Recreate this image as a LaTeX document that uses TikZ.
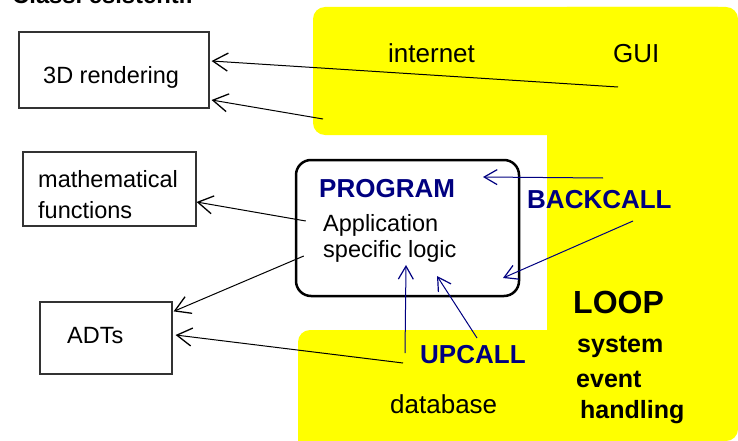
\documentclass[tikz,border=0pt]{standalone}
\usepackage{fontspec}
\setmainfont{Liberation Sans}
\usetikzlibrary{arrows.meta}
\definecolor{navyb}{RGB}{0,0,128}
\definecolor{ylw}{RGB}{255,255,0}
\begin{document}
\begin{tikzpicture}[x=1pt,y=-1pt,
  txt/.style={inner sep=0pt, anchor=base west, font=\fontsize{23.5}{28}\selectfont},
  txtL/.style={txt, font=\fontsize{26}{30}\selectfont},
  callb/.style={txt, font=\fontsize{26}{30}\selectfont\bfseries, text=navyb},
  loopt/.style={txt, font=\fontsize{25}{30}\selectfont\bfseries},
  box/.style={draw=black!80, line width=1.2pt, inner sep=0pt},
  arr/.style={-{Straight Barb[length=15pt,width=18pt,line width=1.3pt]}, line width=1pt},
  barr/.style={-{Straight Barb[length=13pt,width=15pt,line width=1.2pt]}, line width=1pt, draw=navyb},
]
\useasboundingbox (0,0) rectangle (738,441);
% yellow region
\fill[ylw, rounded corners=12pt] (313,7) rectangle (738,135);
\fill[ylw, rounded corners=20pt] (547,7) rectangle (738,440);
\fill[ylw, rounded corners=12pt] (298,330) rectangle (738,441);
\fill[ylw] (298,400) rectangle (400,441);

% title (cut off at the top edge, as in the reference)
\node[txt, font=\fontsize{23.8}{28}\selectfont\bfseries] (title) at (12,4) {Classi esistenti:};

% boxes
\node[box, minimum width=190pt, minimum height=76pt] (r3d) at (114,70) {};
\node[box, minimum width=173pt, minimum height=74pt] (math) at (109.5,189) {};
\node[box, minimum width=132pt, minimum height=72pt] (adt) at (106,338) {};
\node[draw=black, line width=2.5pt, rounded corners=15pt, minimum width=223pt, minimum height=136pt, inner sep=0pt] (prog) at (407.5,228) {};

% texts
\node[txt] (t3d) at (43,84) {3D rendering};
\node[txt] (tmath1) at (38,187) {mathematical};
\node[txt] (tmath2) at (38,218) {functions};
\node[txt] (tadt) at (67,343) {ADTs};
\node[callb] (tprog) at (319,197) {PROGRAM};
\node[txt] (tapp1) at (323,231) {Application};
\node[txt] (tapp2) at (323,257) {specific logic};
\node[callb] (tback) at (527,208) {BACKCALL};
\node[txtL] (tint) at (388,63) {internet};
\node[txtL] (tgui) at (613,63) {GUI};
\node[txt, font=\fontsize{32}{36}\selectfont\bfseries] (tloop) at (573,313) {LOOP};
\node[loopt] (tsys) at (577,352) {system};
\node[loopt] (tevt) at (576,387) {event};
\node[loopt] (thand) at (580,418) {handling};
\node[callb] (tup) at (420,363) {UPCALL};
\node[txtL] (tdb) at (390,413) {database};

% free ends
\coordinate (g1) at (618,87);
\coordinate (g2) at (323,119);
\coordinate (b1) at (603,178);
\coordinate (b2) at (633,221);
\coordinate (u1) at (405,353);
\coordinate (u2) at (477,338);
\coordinate (d1) at (403,363);

% black arrows
\draw[arr] (g1) -- ([xshift=2pt,yshift=9pt]r3d.east);
\draw[arr] (g2) -- ([xshift=2pt,yshift=-30pt]r3d.east);
\draw[arr] ([xshift=11pt,yshift=7pt]prog.west) -- ([yshift=-13pt]math.east);
\draw[arr] ([xshift=9pt,yshift=-28pt]prog.west) -- ([xshift=1pt,yshift=-10pt]adt.north east);
\draw[arr] (d1) -- ([xshift=3pt,yshift=3pt]adt.east);

% blue arrows
\draw[barr] (b1) -- ([xshift=75.5pt,yshift=51pt]prog.center);
\draw[barr] (b2) -- ([xshift=95.5pt,yshift=-50pt]prog.center);
\draw[barr] (u1) -- ([xshift=-1.5pt,yshift=-37pt]prog.center);
\draw[barr] (u2) -- ([xshift=29.5pt,yshift=-48pt]prog.center);
\end{tikzpicture}
\end{document}
